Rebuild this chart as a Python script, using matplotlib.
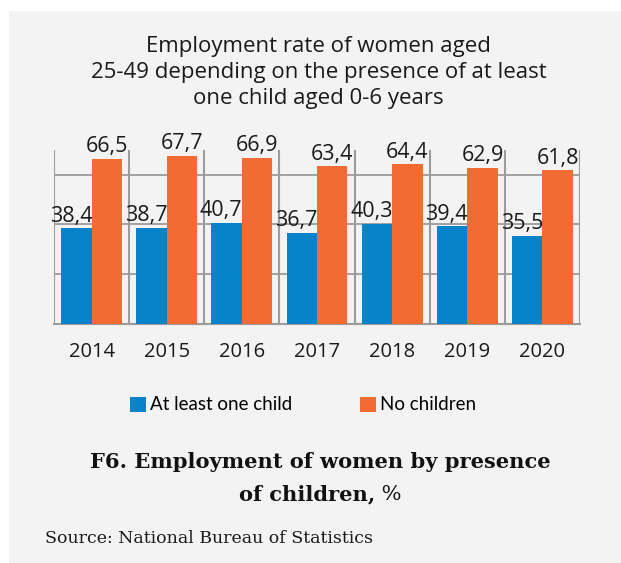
import matplotlib
matplotlib.use("Agg")
import matplotlib.pyplot as plt
import numpy as np
from matplotlib.patches import Rectangle

years = ["2014", "2015", "2016", "2017", "2018", "2019", "2020"]
with_child = [38.4, 38.7, 40.7, 36.7, 40.3, 39.4, 35.5]
no_children = [66.5, 67.7, 66.9, 63.4, 64.4, 62.9, 61.8]
series_names = ["At least one child", "No children"]
title_lines = ["Employment rate of women aged",
               "25-49 depending on the presence of at least",
               "one child aged 0-6 years"]

BLUE = "#0784c9"
ORANGE = "#f26b32"
GRID = "#9b9b9b"
PANEL = "#f3f3f3"
SANS = ["Open Sans", "DejaVu Sans"]
SERIF = ["DejaVu Serif"]

W, H = 621, 563
fig = plt.figure(figsize=(W / 100, H / 100), dpi=100, facecolor="white")

# grey card behind everything
fig.patches.append(Rectangle((9 / W, 0), 1, (H - 11) / H, transform=fig.transFigure,
                             facecolor=PANEL, edgecolor="none", zorder=-5))

ax = fig.add_axes([54 / W, (H - 323.5) / H, 526 / W, 173.5 / H])
ax.set_facecolor(PANEL)

x = np.arange(len(years))
bw = 0.405
b1 = ax.bar(x - bw / 2, with_child, bw, color=BLUE, zorder=3, label=series_names[0])
b2 = ax.bar(x + bw / 2, no_children, bw, color=ORANGE, zorder=3, label=series_names[1])

ax.set_xlim(-0.5, len(years) - 0.5)
ax.set_ylim(0, 70)

# grid: horizontal every 20, vertical at category boundaries
for y in [20, 40, 60]:
    ax.axhline(y, color=GRID, lw=1.3, zorder=1)
for xb in np.arange(-0.5, len(years), 1.0):
    ax.axvline(xb, color=GRID, lw=1.5, zorder=1)
for s in ["top", "right", "left"]:
    ax.spines[s].set_visible(False)
ax.spines["bottom"].set_color(GRID)
ax.spines["bottom"].set_linewidth(1.5)

ax.set_yticks([])
ax.set_xticks(x)
ax.set_xticklabels(years, fontsize=14.5, family=SANS, color="#1a1a1a")
ax.tick_params(axis="x", length=0, pad=13)

fmt = lambda v: f"{v:.1f}".replace(".", ",")
for r, v in zip(b1, with_child):
    ax.annotate(fmt(v), (r.get_x() + r.get_width(), v), xytext=(0.5, 4.5),
                textcoords="offset points", ha="right", va="baseline",
                fontsize=15.5, family=SANS, color="#1a1a1a", zorder=4)
for r, v in zip(b2, no_children):
    ax.annotate(fmt(v), (r.get_x() + r.get_width() / 2, v), xytext=(0, 4.5),
                textcoords="offset points", ha="center", va="baseline",
                fontsize=15.5, family=SANS, color="#1a1a1a", zorder=4)

# chart title, one line at a time
for i, line in enumerate(title_lines):
    fig.text(318.5 / W, (H - 52 - 26 * i) / H, line, ha="center", va="baseline",
             fontsize=16, family=SANS, color="#1a1a1a")

# legend
fs = 13.5
px = fs * 100 / 72
leg = fig.legend(handles=[b1, b2], loc="center left", bbox_to_anchor=(130 / W, (H - 405) / H),
                 ncol=2, frameon=False, prop={"family": ["Lato", "DejaVu Sans"], "size": fs},
                 handlelength=16 / px, handleheight=16 / px, handletextpad=4 / px,
                 columnspacing=68 / px, borderpad=0, borderaxespad=0)

# caption below the chart
cap = 15.1
fig.text(320 / W, (H - 468) / H, "F6. Employment of women by presence",
         ha="center", va="baseline", fontsize=cap, family=SERIF, weight="bold", color="#111111")
fig.canvas.draw()
r = fig.canvas.get_renderer()
t1 = fig.text(0, (H - 500) / H, "of children,", ha="left", va="baseline", fontsize=cap,
              family=SERIF, weight="bold", color="#111111")
t2 = fig.text(0, (H - 500) / H, " %", ha="left", va="baseline", fontsize=cap,
              family=SERIF, color="#111111")
w1 = t1.get_window_extent(r).width
w2 = t2.get_window_extent(r).width
x0 = 320 - (w1 + w2) / 2
t1.set_x(x0 / W)
t2.set_x((x0 + w1) / W)

fig.text(45 / W, (H - 543) / H, "Source: National Bureau of Statistics",
         ha="left", va="baseline", fontsize=12.5, family=SERIF, color="#1a1a1a")

fig.savefig("out.png", dpi=100, facecolor="white")
